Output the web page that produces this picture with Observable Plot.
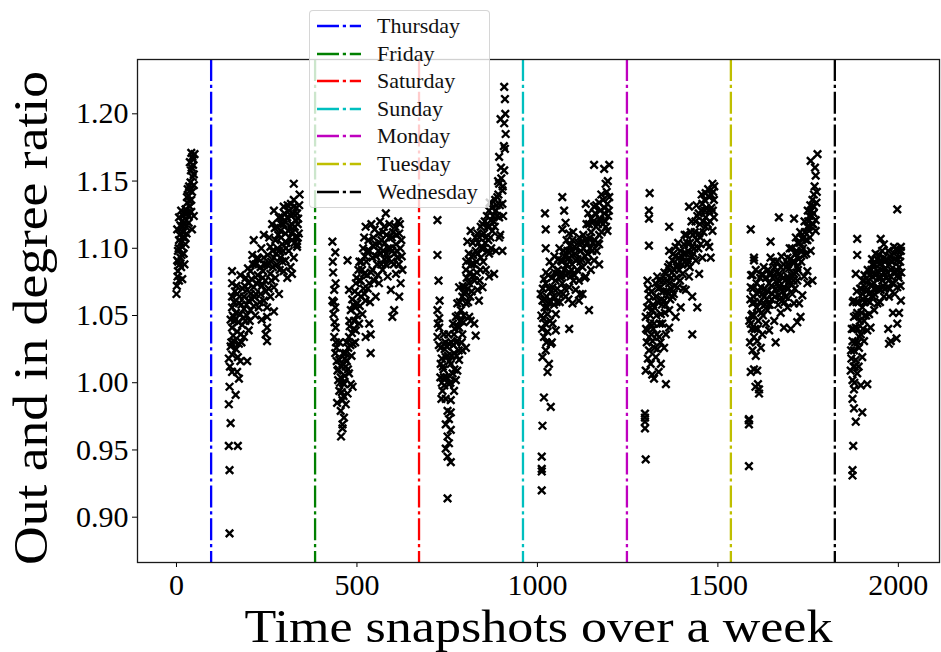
<!DOCTYPE html>
<html>
<head>
<meta charset="utf-8">
<script src="https://cdn.jsdelivr.net/npm/d3@7"></script>
<script src="https://cdn.jsdelivr.net/npm/@observablehq/plot@0.6"></script>
<style>
  html, body { margin: 0; padding: 0; background: #fff; }
  #wrap { position: relative; width: 941px; height: 652px; }
  #legend { position: absolute; left: 309px; top: 10px; width: 181px; height: 198px;
    box-sizing: border-box; background: rgba(255,255,255,0.8);
    border: 1px solid rgba(204,204,204,0.8); border-radius: 4px; }
  .lrow { position: absolute; left: 0; height: 20px; width: 181px; }
  .lrow svg { position: absolute; left: 7px; top: 0; }
  .lrow span { position: absolute; left: 67px; top: -3px; font-family: 'Liberation Serif', serif;
    font-size: 22px; line-height: 26px; color: #111; white-space: nowrap; }
</style>
</head>
<body>
<div id="wrap"></div>
<script>
// ---- data (snapshot index, out/in degree ratio) ----
const cluster0 = [[0,1.066],[7,1.076],[16,1.077],[4,1.083],[13,1.086],[22,1.088],[2,1.091],[11,1.093],[20,1.096],[4,1.098],[16,1.101],[25,1.103],[7,1.106],[19,1.108],[28,1.111],[2,1.114],[11,1.117],[22,1.118],[34,1.119],[43,1.114],[7,1.123],[19,1.124],[30,1.126],[41,1.127],[48,1.124],[13,1.128],[25,1.129],[37,1.131],[30,1.134],[41,1.136],[34,1.139],[43,1.142],[31,1.144],[48,1.147],[39,1.149],[45,1.153],[48,1.155],[37,1.164],[44,1.168],[50,1.170],[41,1.171],
  [3,1.079],[9,1.088],[14,1.095],[6,1.100],[18,1.112],[26,1.116],[33,1.124],[36,1.135],[27,1.121],[40,1.158],[46,1.162],[9,1.110],[15,1.120],[24,1.108],
  [1,1.072],[5,1.090],[12,1.104],[17,1.116],[23,1.126],[29,1.138],[35,1.146],[42,1.160],[47,1.166],[38,1.143]];
const cluster1 = [[147,0.888],[147,0.935],[145,0.953],[170,0.953],[150,0.970],[145,0.984],[164,0.991],[147,0.997],[173,1.003],[154,1.008],[168,1.008],[145,1.018],[154,1.021],[177,1.016],[196,1.016],[150,1.027],[159,1.031],[173,1.029],[187,1.034],[154,1.041],[168,1.038],[182,1.043],[200,1.039],[159,1.049],[177,1.051],[191,1.046],[205,1.054],[154,1.056],[173,1.059],[187,1.055],[200,1.061],[214,1.057],[154,1.064],[168,1.066],[187,1.064],[196,1.069],[154,1.074],[177,1.080],[154,1.083],[200,1.074],[214,1.071],[228,1.076],[233,1.066],[242,1.061],[251,1.056],[251,1.049],[251,1.041],[251,1.031],[247,1.036],[270,1.053],[205,1.083],[219,1.088],[233,1.086],[224,1.093],[210,1.095],[242,1.093],[251,1.088],[260,1.081],[274,1.078],[284,1.066],[270,1.071],[260,1.064],[214,1.106],[242,1.110],[260,1.101],[274,1.106],[284,1.098],[293,1.103],[270,1.093],[288,1.093],[302,1.091],[316,1.086],[320,1.081],[307,1.078],[297,1.083],[325,1.093],[311,1.098],[270,1.128],[284,1.123],[297,1.118],[288,1.113],[302,1.111],[316,1.116],[330,1.121],[325,1.131],[334,1.126],[339,1.111],[334,1.103],[320,1.106],[307,1.123],[297,1.131],[325,1.136],[325,1.148],[334,1.101],
  [160,1.060],[165,1.052],[180,1.058],[183,1.070],[192,1.078],[205,1.066],[210,1.062],[220,1.066],[225,1.080],[237,1.072],[240,1.083],[246,1.076],[255,1.070],[262,1.090],[266,1.098],[278,1.088],[280,1.100],[290,1.108],[295,1.098],[300,1.120],[305,1.104],[310,1.113],[312,1.128],[318,1.124],[322,1.112],[328,1.116],[330,1.108],[336,1.118],[340,1.132],[317,1.133],[292,1.123],[279,1.116],[265,1.118],[160,1.046],[165,1.025],[170,1.019],[180,1.030],[185,1.048],[195,1.050],[218,1.050],[228,1.056],[236,1.047],[166,1.072],[150,1.047],[157,1.035],
  [148,1.012],[152,1.030],[156,1.050],[162,1.068],[171,1.045],[175,1.064],[178,1.036],[189,1.072],[194,1.058],[198,1.085],[203,1.046],[208,1.077],[212,1.088],[216,1.064],[222,1.074],[226,1.092],[231,1.060],[235,1.100],[239,1.078],[244,1.088],[248,1.068],[253,1.095],[257,1.108],[263,1.076],[267,1.086],[272,1.115],[276,1.096],[282,1.110],[286,1.084],[290,1.118],[294,1.090],[299,1.126],[303,1.100],[308,1.132],[313,1.108],[319,1.118],[323,1.126],[327,1.104],[332,1.130],[337,1.122],[341,1.140],[336,1.108]];
const cluster2 = [[432,1.105],[440,1.097],[434,1.082],[441,1.074],[437,1.069],[432,1.061],[440,1.056],[435,1.051],[441,1.041],[437,1.034],[443,1.026],[440,1.022],[451,1.017],[460,1.014],[446,1.009],[469,1.012],[455,1.004],[478,1.007],[464,0.999],[451,0.994],[483,0.999],[460,0.987],[469,0.984],[455,0.979],[464,0.974],[460,0.969],[460,0.966],[474,0.992],[488,0.997],[469,1.022],[488,1.029],[478,1.034],[497,1.039],[492,1.046],[506,1.044],[483,1.054],[501,1.059],[515,1.051],[534,1.044],[524,1.061],[511,1.064],[497,1.074],[478,1.069],[474,1.091],[506,1.076],[520,1.081],[534,1.074],[543,1.084],[538,1.036],[538,1.022],[524,1.034],[524,1.116],[520,1.108],[529,1.098],[543,1.093],[552,1.103],[561,1.111],[575,1.116],[580,1.126],[589,1.108],[598,1.098],[608,1.103],[617,1.111],[612,1.093],[626,1.084],[621,1.074],[617,1.064],[603,1.054],[598,1.049],[571,1.084],[585,1.079],[561,1.074],[552,1.064],[594,1.069],[580,1.088],[566,1.096],[608,1.081],
  [448,1.002],[452,1.030],[458,0.993],[462,1.022],[466,1.005],[472,1.016],[476,1.026],[480,1.042],[486,1.037],[490,1.058],[494,1.068],[500,1.050],[504,1.084],[508,1.057],[512,1.090],[518,1.070],[522,1.094],[528,1.080],[532,1.106],[536,1.060],[540,1.118],[546,1.108],[548,1.076],[556,1.088],[560,1.098],[564,1.120],[568,1.106],[572,1.098],[576,1.092],[582,1.110],[586,1.100],[590,1.118],[596,1.090],[600,1.112],[604,1.096],[610,1.110],[614,1.120],[620,1.100],[624,1.094],[445,0.985],[456,0.960],[485,1.020],[495,1.030],
  [433,1.090],[436,1.060],[438,1.045],[442,1.030],[444,1.016],[449,1.010],[453,1.000],[457,1.012],[461,1.000],[463,0.990],[467,1.018],[471,1.030],[475,1.010],[479,1.046],[482,1.028],[487,1.062],[491,1.040],[496,1.056],[499,1.078],[503,1.066],[507,1.090],[510,1.076],[514,1.084],[517,1.100],[521,1.066],[526,1.090],[530,1.070],[535,1.098],[539,1.082],[544,1.102],[549,1.114],[553,1.094],[558,1.080],[563,1.104],[567,1.088],[572,1.112],[577,1.104],[581,1.096],[587,1.092],[592,1.100],[597,1.108],[602,1.088],[606,1.116],[611,1.098],[616,1.088],[619,1.118],[623,1.106]];
const cluster3 = [[751,0.914],[760,0.941],[751,0.945],[746,0.951],[755,0.955],[751,0.960],[760,0.965],[746,0.969],[755,0.973],[751,0.979],[760,0.987],[746,0.988],[737,0.994],[769,0.994],[755,0.999],[774,1.002],[741,1.004],[765,1.007],[778,1.009],[732,1.014],[760,1.014],[783,1.017],[746,1.019],[769,1.022],[792,1.024],[732,1.026],[755,1.029],[778,1.031],[802,1.026],[723,1.034],[741,1.036],[769,1.036],[792,1.036],[783,1.041],[728,1.041],[723,1.054],[728,1.048],[729,1.061],[726,1.076],[723,1.095],[723,1.121],[774,1.049],[778,1.059],[792,1.064],[788,1.054],[802,1.059],[811,1.049],[825,1.044],[829,1.035],[815,1.046],[797,1.071],[811,1.074],[783,1.071],[802,1.084],[820,1.079],[834,1.069],[838,1.061],[848,1.071],[825,1.088],[811,1.091],[806,1.105],[815,1.113],[829,1.098],[843,1.093],[857,1.084],[866,1.079],[880,1.081],[866,1.096],[885,1.098],[903,1.098],[894,1.108],[875,1.113],[862,1.116],[848,1.118],[866,1.128],[885,1.128],[894,1.123],[903,1.133],[889,1.138],[903,1.143],[894,1.148],[908,1.158],[894,1.168],[912,1.185],[908,1.193],[898,1.196],[910,1.211],[908,1.220],[843,1.116],[852,1.111],[834,1.111],[871,1.121],
  [735,1.000],[740,1.010],[748,1.027],[752,1.020],[757,1.005],[762,1.030],[766,1.044],[770,1.010],[776,1.020],[780,1.050],[786,1.046],[790,1.030],[795,1.045],[798,1.066],[804,1.078],[808,1.060],[813,1.082],[818,1.068],[822,1.095],[826,1.076],[832,1.082],[836,1.104],[840,1.076],[845,1.100],[850,1.090],[855,1.104],[860,1.124],[864,1.106],[868,1.134],[872,1.100],[877,1.124],[882,1.116],[887,1.132],[892,1.140],[897,1.110],[900,1.152],[905,1.124],[910,1.174],[743,1.025],[760,0.978],[735,1.018],
  [724,1.044],[727,1.028],[731,1.004],[734,0.988],[738,1.012],[742,0.998],[745,1.030],[749,1.004],[753,1.036],[756,1.016],[759,1.000],[763,1.020],[767,1.028],[771,1.040],[775,1.030],[779,1.042],[782,1.024],[785,1.060],[789,1.046],[793,1.072],[796,1.050],[800,1.068],[803,1.090],[807,1.070],[810,1.096],[814,1.064],[817,1.088],[821,1.104],[824,1.080],[828,1.108],[831,1.090],[835,1.096],[839,1.108],[842,1.084],[846,1.110],[851,1.100],[854,1.120],[858,1.108],[863,1.098],[867,1.116],[870,1.108],[874,1.130],[879,1.120],[883,1.136],[888,1.124],[891,1.150],[896,1.132],[899,1.160],[904,1.146],[907,1.176],[911,1.200]];
const cluster4 = [[1012,0.920],[1012,0.934],[1012,0.936],[1012,0.945],[1014,0.968],[1037,0.982],[1018,0.989],[1028,1.008],[1032,1.014],[1014,1.019],[1023,1.024],[1037,1.029],[1018,1.034],[1028,1.038],[1051,1.039],[1088,1.040],[1042,1.044],[1028,1.051],[1051,1.051],[1014,1.061],[1032,1.059],[1009,1.066],[1023,1.074],[1018,1.077],[1042,1.071],[1060,1.066],[1078,1.064],[1097,1.059],[1115,1.061],[1143,1.054],[1069,1.074],[1088,1.071],[1106,1.069],[1125,1.066],[1055,1.081],[1074,1.084],[1092,1.079],[1115,1.076],[1134,1.079],[1042,1.087],[1065,1.091],[1088,1.093],[1106,1.091],[1125,1.086],[1148,1.084],[1171,1.088],[1157,1.091],[1083,1.098],[1102,1.101],[1120,1.098],[1139,1.096],[1152,1.098],[1171,1.103],[1023,1.100],[1023,1.114],[1021,1.126],[1069,1.138],[1074,1.128],[1078,1.119],[1069,1.114],[1088,1.111],[1097,1.106],[1134,1.106],[1134,1.133],[1157,1.131],[1171,1.134],[1185,1.126],[1194,1.133],[1199,1.138],[1175,1.121],[1162,1.116],[1143,1.118],[1194,1.113],[1171,1.110],[1189,1.148],[1157,1.162],[1199,1.162],[1185,1.159],
  [1016,1.048],[1020,1.056],[1026,1.064],[1030,1.080],[1035,1.046],[1038,1.068],[1046,1.058],[1048,1.082],[1055,1.070],[1058,1.092],[1062,1.060],[1066,1.080],[1072,1.098],[1076,1.070],[1082,1.088],[1086,1.062],[1090,1.102],[1094,1.084],[1100,1.076],[1104,1.096],[1110,1.084],[1113,1.104],[1118,1.066],[1122,1.092],[1128,1.100],[1131,1.078],[1136,1.118],[1140,1.090],[1145,1.108],[1150,1.122],[1154,1.104],[1160,1.126],[1164,1.098],[1168,1.118],[1174,1.128],[1178,1.112],[1182,1.136],[1188,1.120],[1192,1.142],[1196,1.124],[1040,1.030],[1025,1.030],
  [1011,1.050],[1013,1.040],[1015,1.070],[1019,1.062],[1022,1.044],[1024,1.082],[1027,1.056],[1031,1.070],[1034,1.090],[1036,1.060],[1040,1.078],[1044,1.064],[1047,1.094],[1050,1.076],[1053,1.060],[1057,1.084],[1061,1.100],[1064,1.078],[1068,1.090],[1071,1.066],[1075,1.094],[1079,1.080],[1081,1.106],[1085,1.092],[1089,1.082],[1093,1.098],[1096,1.088],[1099,1.112],[1103,1.080],[1107,1.100],[1111,1.092],[1116,1.108],[1119,1.090],[1123,1.104],[1127,1.110],[1132,1.094],[1137,1.104],[1141,1.126],[1146,1.100],[1149,1.112],[1155,1.120],[1159,1.106],[1163,1.132],[1167,1.104],[1172,1.122],[1177,1.140],[1181,1.118],[1186,1.130],[1190,1.116],[1195,1.150],[1198,1.128]];
const cluster5 = [[1300,0.943],[1298,0.966],[1298,0.971],[1298,0.974],[1298,0.977],[1356,0.999],[1323,1.003],[1300,1.009],[1314,1.014],[1328,1.019],[1342,1.014],[1309,1.024],[1332,1.025],[1351,1.026],[1319,1.031],[1337,1.034],[1356,1.036],[1305,1.039],[1323,1.044],[1346,1.044],[1365,1.041],[1300,1.049],[1319,1.054],[1342,1.051],[1365,1.054],[1383,1.049],[1309,1.061],[1328,1.064],[1351,1.061],[1374,1.064],[1397,1.056],[1429,1.036],[1443,1.056],[1309,1.066],[1342,1.071],[1365,1.074],[1388,1.071],[1411,1.069],[1429,1.064],[1305,1.076],[1332,1.079],[1356,1.081],[1379,1.084],[1402,1.081],[1420,1.079],[1448,1.081],[1374,1.091],[1392,1.093],[1416,1.088],[1439,1.091],[1457,1.093],[1480,1.093],[1365,1.098],[1383,1.101],[1406,1.103],[1429,1.101],[1452,1.103],[1476,1.101],[1425,1.112],[1448,1.111],[1466,1.116],[1485,1.113],[1489,1.123],[1466,1.123],[1443,1.124],[1420,1.131],[1457,1.133],[1476,1.138],[1489,1.136],[1485,1.148],[1466,1.141],[1365,1.116],[1309,1.102],[1309,1.122],[1309,1.128],[1311,1.141],
  [1303,1.030],[1306,1.018],[1312,1.044],[1316,1.036],[1320,1.058],[1325,1.026],[1330,1.050],[1335,1.070],[1339,1.044],[1344,1.062],[1348,1.076],[1353,1.052],[1358,1.068],[1362,1.086],[1368,1.062],[1371,1.078],[1377,1.096],[1381,1.072],[1386,1.086],[1390,1.104],[1395,1.076],[1400,1.094],[1404,1.070],[1409,1.090],[1413,1.110],[1418,1.098],[1422,1.086],[1427,1.120],[1432,1.096],[1436,1.112],[1441,1.132],[1446,1.100],[1450,1.118],[1455,1.140],[1460,1.112],[1464,1.128],[1470,1.104],[1473,1.144],[1478,1.120],[1482,1.130],[1487,1.142],[1336,1.008],[1318,1.006],
  [1301,1.040],[1304,1.056],[1307,1.070],[1310,1.034],[1313,1.050],[1317,1.068],[1321,1.040],[1324,1.056],[1327,1.074],[1331,1.036],[1334,1.060],[1338,1.076],[1341,1.030],[1345,1.058],[1349,1.068],[1352,1.082],[1355,1.058],[1359,1.076],[1363,1.066],[1366,1.088],[1370,1.070],[1373,1.082],[1378,1.066],[1382,1.094],[1385,1.078],[1389,1.088],[1393,1.084],[1396,1.098],[1401,1.088],[1405,1.096],[1408,1.110],[1412,1.096],[1415,1.104],[1419,1.090],[1423,1.104],[1428,1.094],[1431,1.110],[1435,1.100],[1438,1.120],[1442,1.106],[1447,1.126],[1451,1.108],[1454,1.128],[1459,1.120],[1463,1.136],[1468,1.130],[1472,1.118],[1476,1.128],[1481,1.140],[1486,1.128],[1490,1.146]];
const cluster6 = [[1586,0.938],[1586,0.969],[1586,0.972],[1586,0.973],[1614,0.992],[1614,0.995],[1611,0.999],[1591,1.008],[1609,1.009],[1605,1.020],[1619,1.026],[1596,1.024],[1609,1.031],[1600,1.034],[1660,1.030],[1623,1.036],[1642,1.039],[1591,1.044],[1633,1.044],[1656,1.046],[1683,1.041],[1702,1.040],[1720,1.045],[1729,1.049],[1596,1.051],[1614,1.054],[1637,1.054],[1674,1.052],[1693,1.056],[1711,1.059],[1596,1.059],[1609,1.066],[1628,1.064],[1651,1.066],[1669,1.065],[1688,1.064],[1706,1.066],[1725,1.059],[1734,1.065],[1591,1.071],[1619,1.071],[1642,1.074],[1665,1.074],[1683,1.071],[1702,1.074],[1720,1.076],[1748,1.074],[1596,1.080],[1623,1.081],[1646,1.082],[1669,1.081],[1693,1.079],[1711,1.081],[1739,1.079],[1762,1.076],[1600,1.091],[1600,1.093],[1646,1.093],[1674,1.086],[1697,1.085],[1720,1.086],[1748,1.083],[1693,1.093],[1716,1.096],[1739,1.095],[1757,1.098],[1646,1.105],[1716,1.108],[1734,1.107],[1748,1.106],[1753,1.113],[1771,1.113],[1762,1.118],[1748,1.116],[1771,1.121],[1591,1.114],[1669,1.123],[1711,1.122],[1753,1.124],[1766,1.131],[1762,1.136],[1766,1.140],[1771,1.154],[1757,1.165],[1776,1.170],
  [1589,1.030],[1593,1.050],[1598,1.064],[1603,1.040],[1607,1.074],[1612,1.046],[1616,1.060],[1621,1.080],[1625,1.050],[1630,1.070],[1635,1.062],[1639,1.084],[1644,1.058],[1648,1.072],[1653,1.090],[1658,1.064],[1662,1.082],[1667,1.058],[1672,1.070],[1676,1.094],[1681,1.078],[1685,1.060],[1690,1.086],[1695,1.070],[1699,1.100],[1704,1.080],[1708,1.090],[1713,1.070],[1718,1.098],[1722,1.084],[1727,1.104],[1731,1.090],[1736,1.100],[1741,1.112],[1745,1.096],[1750,1.120],[1755,1.108],[1759,1.128],[1764,1.118],[1768,1.146],[1773,1.134],[1604,0.997],[1600,1.010],
  [1587,1.046],[1590,1.062],[1592,1.080],[1594,1.040],[1597,1.070],[1599,1.050],[1602,1.060],[1605,1.084],[1608,1.056],[1610,1.040],[1613,1.068],[1617,1.078],[1620,1.052],[1624,1.066],[1627,1.086],[1631,1.058],[1634,1.078],[1638,1.068],[1641,1.058],[1645,1.080],[1649,1.062],[1652,1.078],[1657,1.086],[1661,1.070],[1664,1.090],[1668,1.076],[1671,1.062],[1675,1.080],[1679,1.068],[1682,1.088],[1686,1.076],[1689,1.064],[1694,1.088],[1698,1.076],[1701,1.092],[1705,1.100],[1709,1.076],[1712,1.090],[1717,1.082],[1721,1.104],[1724,1.092],[1728,1.112],[1732,1.098],[1737,1.108],[1740,1.120],[1744,1.106],[1749,1.128],[1752,1.116],[1756,1.132],[1760,1.124],[1765,1.126],[1769,1.160],[1774,1.142]];
const cluster7 = [[1873,0.931],[1873,0.935],[1875,0.953],[1882,0.971],[1900,0.978],[1877,0.981],[1873,0.988],[1877,0.995],[1873,1.002],[1896,0.998],[1914,0.999],[1886,1.007],[1868,1.009],[1882,1.017],[1900,1.019],[1877,1.024],[1891,1.026],[1905,1.031],[1873,1.031],[1896,1.036],[1914,1.039],[1882,1.041],[1877,1.049],[1923,1.041],[1905,1.046],[1886,1.052],[1919,1.051],[1933,1.054],[1900,1.056],[1877,1.061],[1914,1.061],[1942,1.059],[1960,1.064],[1900,1.066],[1923,1.067],[1951,1.069],[1974,1.064],[1983,1.074],[1910,1.071],[1933,1.074],[1970,1.071],[1997,1.071],[1905,1.076],[1928,1.079],[1956,1.076],[1979,1.079],[1993,1.082],[1942,1.083],[1965,1.085],[2002,1.086],[1928,1.088],[1951,1.091],[1974,1.088],[1997,1.091],[1937,1.096],[1960,1.093],[1988,1.096],[2007,1.098],[2002,1.052],[1997,1.044],[1979,1.031],[1974,1.029],[2007,1.061],[1988,1.101],[2007,1.101],[1882,1.081],[1886,1.095],[1947,1.095],[1960,1.103],[1886,1.107],[1951,1.107],[1997,1.129],[1995,1.033],
  [1870,1.018],[1875,1.040],[1879,1.012],[1884,1.060],[1888,1.030],[1893,1.046],[1897,1.070],[1902,1.040],[1907,1.060],[1911,1.050],[1916,1.076],[1921,1.060],[1925,1.084],[1930,1.064],[1935,1.088],[1939,1.070],[1944,1.078],[1949,1.060],[1953,1.084],[1958,1.072],[1962,1.090],[1967,1.078],[1972,1.098],[1976,1.070],[1981,1.090],[1986,1.082],[1990,1.066],[1995,1.100],[1999,1.080],[2004,1.094],[2006,1.072],[1972,1.040],[1985,1.052],[1890,1.012],[1878,1.000],
  [1869,1.024],[1871,1.040],[1874,1.060],[1876,1.012],[1880,1.030],[1883,1.050],[1885,1.068],[1887,1.040],[1889,1.060],[1892,1.034],[1894,1.070],[1898,1.052],[1901,1.076],[1903,1.062],[1906,1.080],[1908,1.050],[1912,1.068],[1915,1.084],[1918,1.066],[1920,1.080],[1924,1.072],[1927,1.092],[1931,1.082],[1934,1.066],[1938,1.080],[1941,1.092],[1945,1.070],[1948,1.088],[1952,1.078],[1955,1.098],[1959,1.082],[1963,1.070],[1966,1.092],[1969,1.082],[1973,1.076],[1977,1.094],[1980,1.084],[1984,1.090],[1987,1.074],[1991,1.092],[1994,1.084],[1998,1.098],[2001,1.078],[2005,1.090],[2008,1.082]];

const dayNames  = ["Thursday", "Friday", "Saturday", "Sunday", "Monday", "Tuesday", "Wednesday"];
const dayStarts = [96, 384, 672, 960, 1248, 1536, 1824];
const dayColors = ["#0000ff", "#008000", "#ff0000", "#00bfbf", "#bf00bf", "#bfbf00", "#000000"];
const xTicks = [0, 500, 1000, 1500, 2000];
const yTicks = [0.90, 0.95, 1.00, 1.05, 1.10, 1.15, 1.20];
const xLabel = "Time snapshots over a week";
const yLabel = "Out and in degree ratio";

// ---- build tables ----
const points = [cluster0, cluster1, cluster2, cluster3, cluster4, cluster5, cluster6, cluster7]
  .flat().map(([x, y]) => ({x, y}));
const days = dayNames.map((name, i) => ({name, start: dayStarts[i], color: dayColors[i]}));
const dash = "22,3.8,3.2,3.8";
const serif = "'Liberation Serif', 'Times New Roman', serif";

const chart = Plot.plot({
  width: 941, height: 652,
  marginLeft: 137, marginRight: 2, marginTop: 59, marginBottom: 90,
  style: {fontFamily: serif, fontSize: "30px", color: "black", background: "white"},
  x: {domain: [-108, 2114], ticks: xTicks, tickSize: 5, tickPadding: 6, label: null, tickFormat: d => String(d)},
  y: {domain: [0.8663, 1.2404], ticks: yTicks, tickSize: 5, tickPadding: 4, label: null, tickFormat: d => d.toFixed(2)},
  color: {type: "identity"},
  marks: [
    Plot.dot(points, {x: "x", y: "y", symbol: "times", r: 3.5, stroke: "black", strokeWidth: 2.4}),
    Plot.ruleX(days, {x: "start", stroke: "color", strokeWidth: 2.3, strokeDasharray: dash}),
    Plot.frame({stroke: "#1a1a1a", strokeWidth: 1.3}),
    Plot.text([xLabel], {text: d => d, frameAnchor: "bottom", dy: 64, lineAnchor: "middle", fontSize: 47, fontFamily: serif, fill: "black"}),
    Plot.text([yLabel], {text: d => d, frameAnchor: "left", dx: -106, dy: 7, rotate: -90, textAnchor: "middle", lineAnchor: "middle", fontSize: 48, fontFamily: serif, fill: "black"})
  ]
});

// stretch the two axis titles to the reference's text widths
d3.select(chart).selectAll("text").each(function () {
  const t = this.textContent;
  if (t === xLabel) d3.select(this).attr("textLength", 588).attr("lengthAdjust", "spacingAndGlyphs");
  if (t === yLabel) d3.select(this).attr("textLength", 494).attr("lengthAdjust", "spacingAndGlyphs");
});

const wrap = document.getElementById("wrap");
wrap.appendChild(chart);

// ---- legend (overlay, like matplotlib's legend box) ----
const legend = document.createElement("div");
legend.id = "legend";
days.forEach((d, i) => {
  const row = document.createElement("div");
  row.className = "lrow";
  row.style.top = (15 - 10 + i * 27.6) + "px";
  row.innerHTML = `<svg width="44" height="20"><line x1="0" y1="10" x2="44" y2="10" stroke="${d.color}" stroke-width="2.6" stroke-dasharray="${dash}"/></svg><span>${d.name}</span>`;
  legend.appendChild(row);
});
wrap.appendChild(legend);
</script>
</body>
</html>
